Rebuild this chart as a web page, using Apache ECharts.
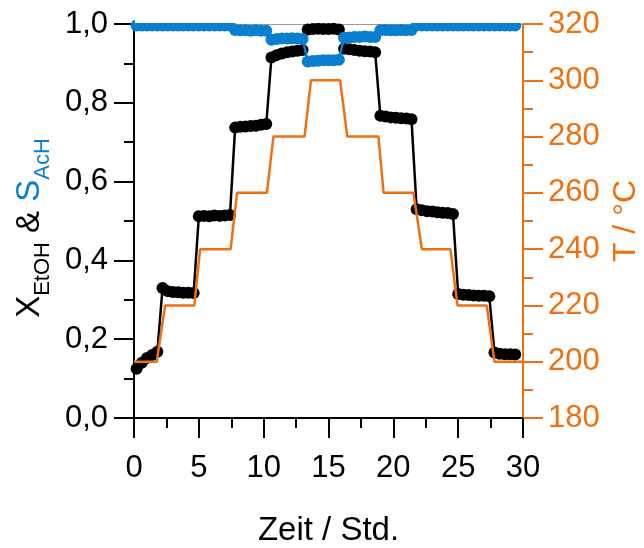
<!DOCTYPE html>
<html>
<head>
<meta charset="utf-8">
<script src="https://cdn.jsdelivr.net/npm/echarts@6/dist/echarts.min.js"></script>
<style>
  html, body { margin: 0; padding: 0; background: #fff; }
  #chart { width: 644px; height: 548px; }
</style>
</head>
<body>
<div id="chart"></div>
<script>
// Messzeitpunkte (Std.) – gleiche Zeitpunkte fuer Umsatz und Selektivitaet
const zeit = [0.2, 0.6, 1.0, 1.4, 1.8,
  2.2, 2.6, 3.0, 3.4, 3.8, 4.2, 4.6,
  5.0, 5.4, 5.8, 6.2, 6.6, 7.0, 7.4,
  7.8, 8.2, 8.6, 9.0, 9.4, 9.8, 10.2,
  10.6, 11.0, 11.4, 11.8, 12.2, 12.6, 13.0,
  13.4, 13.8, 14.2, 14.6, 15.0, 15.4, 15.8,
  16.2, 16.6, 17.0, 17.4, 17.8, 18.2, 18.6,
  19.0, 19.4, 19.8, 20.2, 20.6, 21.0, 21.4,
  21.8, 22.2, 22.6, 23.0, 23.4, 23.8, 24.2, 24.6,
  25.0, 25.4, 25.8, 26.2, 26.6, 27.0, 27.4,
  27.8, 28.2, 28.6, 29.0, 29.4]

// X_EtOH
const umsatzEtOH = [0.125, 0.14, 0.152, 0.16, 0.168,
  0.33, 0.322, 0.32, 0.319, 0.318, 0.318, 0.317,
  0.512, 0.513, 0.512, 0.514, 0.513, 0.514, 0.515,
  0.737, 0.739, 0.74, 0.741, 0.742, 0.744, 0.746,
  0.915, 0.921, 0.925, 0.928, 0.93, 0.932, 0.934,
  0.986, 0.987, 0.988, 0.987, 0.987, 0.988, 0.986,
  0.937, 0.936, 0.934, 0.932, 0.931, 0.93, 0.928,
  0.767, 0.765, 0.763, 0.762, 0.761, 0.76, 0.758,
  0.53, 0.527, 0.525, 0.524, 0.522, 0.521, 0.52, 0.518,
  0.315, 0.313, 0.312, 0.311, 0.31, 0.31, 0.309,
  0.166, 0.163, 0.162, 0.162, 0.161]

// S_AcH
const selektAcH = [0.996, 0.996, 0.996, 0.996, 0.996,
  0.996, 0.996, 0.996, 0.996, 0.996, 0.996, 0.996,
  0.996, 0.996, 0.996, 0.996, 0.996, 0.996, 0.996,
  0.985, 0.984, 0.984, 0.983, 0.984, 0.983, 0.983,
  0.96, 0.962, 0.963, 0.963, 0.964, 0.963, 0.962,
  0.905, 0.906, 0.907, 0.908, 0.908, 0.908, 0.909,
  0.965, 0.966, 0.967, 0.967, 0.968, 0.967, 0.967,
  0.984, 0.985, 0.984, 0.984, 0.985, 0.984, 0.985,
  0.996, 0.996, 0.996, 0.996, 0.996, 0.996, 0.996, 0.996,
  0.996, 0.996, 0.996, 0.996, 0.996, 0.996, 0.996,
  0.996, 0.996, 0.996, 0.996, 0.996]

// Temperaturprogramm
const tempZeit = [0, 1.75, 2.4, 4.65, 5.1, 7.45, 7.95, 10.25, 10.75, 13.15, 13.65,
  15.9, 16.45, 18.85, 19.25, 21.55, 22.2, 24.4, 24.95, 27.2, 27.8, 30]
const tempWert = [200, 200, 220, 220, 240, 240, 260, 260, 280, 280, 300,
  300, 280, 280, 260, 260, 240, 240, 220, 220, 200, 200]

const schwarz = '#000000'
const blau = '#0a7fcf'
const orange = '#f07010'
const schrift = '"Liberation Sans", Arial, sans-serif'

function paare(xs, ys) {
  return xs.map((x, i) => [x, ys[i]])
}

const myChart = echarts.init(document.getElementById('chart'))

const option = {
  animation: false,
  textStyle: { fontFamily: schrift },
  grid: { left: 134, right: 121, top: 24, bottom: 130, outerBoundsMode: 'none', containLabel: false },
  xAxis: [
    {
      type: 'value',
      min: 0,
      max: 30,
      interval: 5,
      name: 'Zeit / Std.',
      nameLocation: 'middle',
      nameGap: 96,
      nameTextStyle: { fontSize: 33, color: schwarz, fontFamily: schrift },
      axisLine: { onZero: false, lineStyle: { color: schwarz, width: 2 } },
      axisTick: { length: 20, lineStyle: { width: 2, color: schwarz } },
      minorTick: { show: true, splitNumber: 2, length: 10, lineStyle: { width: 2, color: schwarz } },
      axisLabel: { fontSize: 31, color: schwarz, margin: 35, fontFamily: schrift },
      splitLine: { show: false }
    },
    {
      // oberer Rahmen
      type: 'value',
      position: 'top',
      min: 0,
      max: 30,
      axisLine: { onZero: false, lineStyle: { color: '#9a9a9a', width: 1 } },
      axisTick: { show: false },
      axisLabel: { show: false },
      splitLine: { show: false }
    }
  ],
  yAxis: [
    {
      type: 'value',
      min: 0,
      max: 1,
      interval: 0.2,
      position: 'left',
      name: '{m|X}{s|EtOH}{m| & }{b|S}{bs|AcH}',
      nameLocation: 'middle',
      nameRotate: 90,
      nameGap: 72,
      nameTextStyle: {
        fontFamily: schrift,
        padding: [0, 14, 0, 0],
        rich: {
          m: { fontSize: 33, color: schwarz, lineHeight: 33, fontFamily: schrift },
          s: { fontSize: 22, color: schwarz, lineHeight: 22, padding: [26, 0, 0, 0], fontFamily: schrift },
          b: { fontSize: 33, color: blau, lineHeight: 33, fontFamily: schrift },
          bs: { fontSize: 22, color: blau, lineHeight: 22, padding: [26, 0, 0, 0], fontFamily: schrift }
        }
      },
      axisLine: { show: true, onZero: false, lineStyle: { color: schwarz, width: 2 } },
      axisTick: { show: true, length: 20, lineStyle: { width: 2, color: schwarz } },
      minorTick: { show: true, splitNumber: 2, length: 10, lineStyle: { width: 2, color: schwarz } },
      axisLabel: {
        fontSize: 31,
        color: schwarz,
        margin: 26,
        fontFamily: schrift,
        formatter: v => v.toFixed(1).replace('.', ',')
      },
      splitLine: { show: false }
    },
    {
      type: 'value',
      min: 180,
      max: 320,
      interval: 20,
      position: 'right',
      name: 'T / °C',
      nameLocation: 'middle',
      nameRotate: 90,
      nameGap: 75,
      nameTextStyle: { fontSize: 32, color: orange, fontFamily: schrift },
      axisLine: { show: true, onZero: false, lineStyle: { color: orange, width: 2 } },
      axisTick: { show: true, length: 20, lineStyle: { width: 2, color: orange } },
      minorTick: { show: true, splitNumber: 2, length: 10, lineStyle: { width: 2, color: orange } },
      axisLabel: { fontSize: 31, color: orange, margin: 25, fontFamily: schrift },
      splitLine: { show: false }
    }
  ],
  series: [
    {
      name: 'X_EtOH',
      type: 'line',
      yAxisIndex: 0,
      symbol: 'circle',
      symbolSize: 12,
      itemStyle: { color: schwarz },
      lineStyle: { color: schwarz, width: 2.5 },
      data: paare(zeit, umsatzEtOH),
      z: 2
    },
    {
      name: 'S_AcH',
      type: 'line',
      yAxisIndex: 0,
      symbol: 'circle',
      symbolSize: 12,
      itemStyle: { color: blau },
      lineStyle: { color: blau, width: 2.5 },
      data: paare(zeit, selektAcH),
      z: 3
    },
    {
      name: 'T',
      type: 'line',
      yAxisIndex: 1,
      showSymbol: false,
      lineStyle: { color: orange, width: 2.5 },
      data: paare(tempZeit, tempWert),
      z: 4
    }
  ],
  graphic: [
    {
      // Symbole oberhalb des Rahmens abdecken
      type: 'rect',
      left: 135,
      top: 0,
      z: 100,
      shape: { width: 387, height: 23 },
      style: { fill: '#ffffff' }
    }
  ]
}

myChart.setOption(option)
window.addEventListener('resize', function() {
  myChart.resize()
})
</script>
</body>
</html>
